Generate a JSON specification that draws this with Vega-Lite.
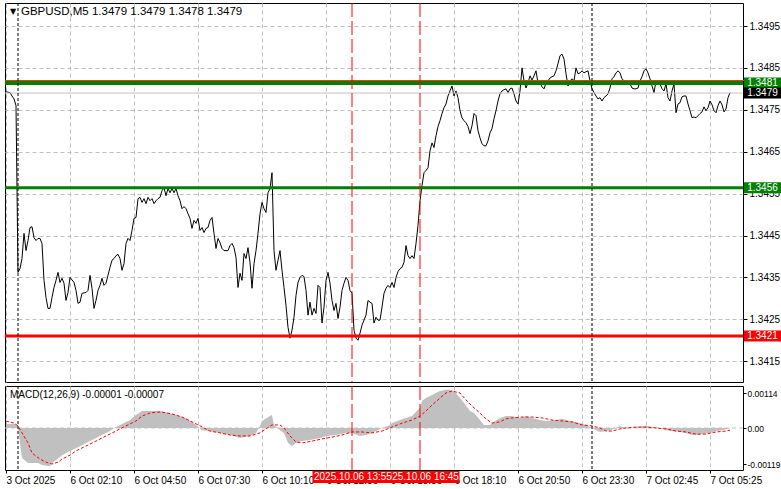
{
  "$schema": "https://vega.github.io/schema/vega-lite/v6.json",
  "background": "white",
  "padding": {"left": 2, "top": 2, "right": 0, "bottom": 0},
  "spacing": 2,
  "config": {
    "view": {"stroke": "#000000", "strokeWidth": 1},
    "font": "Liberation Sans",
    "axis": {"labelFont": "Liberation Sans", "labelFontSize": 10, "labelColor": "#000000", "gridColor": "#c0c0c0", "gridDash": [4, 3], "gridWidth": 1, "tickColor": "#000000", "domain": false, "title": null, "labelOverlap": false, "labelFlush": false},
    "text": {"font": "Liberation Sans", "fontSize": 10}
  },
  "resolve": {"scale": {"x": "independent", "y": "independent"}},
  "datasets": {
    "one": [{}],
    "price": [
      {"k":-6,"p":1.34793},{"k":-4,"p":1.34791},{"k":-3,"p":1.34783},{"k":-2,"p":1.34776},{"k":-1,"p":1.34760},
      {"k":0,"p":1.34362},{"k":1,"p":1.34371},{"k":2,"p":1.34395},{"k":3,"p":1.34455},{"k":4,"p":1.34414},{"k":5,"p":1.34438},{"k":6,"p":1.34469},{"k":7,"p":1.34471},{"k":8,"p":1.34445},{"k":9,"p":1.34438},{"k":10,"p":1.34443},{"k":11,"p":1.34443},{"k":12,"p":1.34431},{"k":13,"p":1.34343},{"k":14,"p":1.34302},{"k":15,"p":1.34276},{"k":16,"p":1.34276},{"k":17,"p":1.34302},{"k":18,"p":1.34326},{"k":19,"p":1.34343},{"k":20,"p":1.34362},{"k":21,"p":1.34338},{"k":22,"p":1.34348},{"k":23,"p":1.34336},{"k":24,"p":1.34295},{"k":25,"p":1.34314},{"k":26,"p":1.34350},{"k":28,"p":1.34338},{"k":29,"p":1.34319},{"k":30,"p":1.34288},{"k":31,"p":1.34291},{"k":32,"p":1.34312},{"k":34,"p":1.34314},{"k":35,"p":1.34319},{"k":36,"p":1.34355},{"k":37,"p":1.34324},{"k":38,"p":1.34276},{"k":39,"p":1.34295},{"k":40,"p":1.34319},{"k":41,"p":1.34331},{"k":42,"p":1.34348},{"k":43,"p":1.34331},{"k":44,"p":1.34336},{"k":45,"p":1.34355},{"k":46,"p":1.34374},{"k":47,"p":1.34391},{"k":48,"p":1.34395},{"k":49,"p":1.34402},{"k":50,"p":1.34405},{"k":51,"p":1.34395},{"k":52,"p":1.34367},{"k":53,"p":1.34383},{"k":54,"p":1.34431},{"k":55,"p":1.34443},{"k":56,"p":1.34438},{"k":57,"p":1.34462},{"k":58,"p":1.34491},{"k":59,"p":1.34493},{"k":60,"p":1.34538},{"k":61,"p":1.34541},{"k":62,"p":1.34529},{"k":63,"p":1.34538},{"k":64,"p":1.34526},{"k":65,"p":1.34541},{"k":66,"p":1.34533},{"k":67,"p":1.34538},{"k":68,"p":1.34526},{"k":69,"p":1.34533},{"k":70,"p":1.34538},{"k":71,"p":1.34541},{"k":72,"p":1.34557},{"k":73,"p":1.34564},{"k":74,"p":1.34545},{"k":75,"p":1.34562},{"k":76,"p":1.34552},{"k":77,"p":1.34562},{"k":78,"p":1.34552},{"k":79,"p":1.34562},{"k":80,"p":1.34545},{"k":81,"p":1.34533},{"k":82,"p":1.34514},{"k":83,"p":1.34519},{"k":84,"p":1.34514},{"k":85,"p":1.34502},{"k":86,"p":1.34491},{"k":87,"p":1.34467},{"k":88,"p":1.34486},{"k":89,"p":1.34479},{"k":90,"p":1.34491},{"k":91,"p":1.34462},{"k":92,"p":1.34469},{"k":93,"p":1.34457},{"k":94,"p":1.34467},{"k":95,"p":1.34469},{"k":96,"p":1.34486},{"k":97,"p":1.34493},{"k":98,"p":1.34455},{"k":99,"p":1.34419},{"k":100,"p":1.34443},{"k":101,"p":1.34433},{"k":102,"p":1.34419},{"k":103,"p":1.34414},{"k":104,"p":1.34414},{"k":105,"p":1.34414},{"k":106,"p":1.34426},{"k":107,"p":1.34431},{"k":108,"p":1.34421},{"k":109,"p":1.34398},{"k":110,"p":1.34326},{"k":111,"p":1.34360},{"k":112,"p":1.34343},{"k":113,"p":1.34407},{"k":114,"p":1.34395},{"k":115,"p":1.34421},{"k":116,"p":1.34386},{"k":117,"p":1.34324},{"k":118,"p":1.34383},{"k":119,"p":1.34414},{"k":120,"p":1.34455},{"k":121,"p":1.34502},{"k":122,"p":1.34529},{"k":123,"p":1.34514},{"k":124,"p":1.34505},{"k":125,"p":1.34552},{"k":126,"p":1.34562},{"k":127,"p":1.34600},{"k":128,"p":1.34414},{"k":129,"p":1.34367},{"k":130,"p":1.34391},{"k":131,"p":1.34414},{"k":132,"p":1.34367},{"k":133,"p":1.34326},{"k":134,"p":1.34283},{"k":135,"p":1.34231},{"k":136,"p":1.34205},{"k":137,"p":1.34224},{"k":138,"p":1.34255},{"k":139,"p":1.34307},{"k":140,"p":1.34338},{"k":141,"p":1.34350},{"k":142,"p":1.34355},{"k":143,"p":1.34352},{"k":144,"p":1.34319},{"k":145,"p":1.34260},{"k":146,"p":1.34291},{"k":147,"p":1.34260},{"k":148,"p":1.34276},{"k":149,"p":1.34264},{"k":150,"p":1.34331},{"k":151,"p":1.34326},{"k":152,"p":1.34241},{"k":153,"p":1.34279},{"k":154,"p":1.34343},{"k":155,"p":1.34362},{"k":156,"p":1.34336},{"k":157,"p":1.34295},{"k":158,"p":1.34271},{"k":159,"p":1.34288},{"k":160,"p":1.34252},{"k":161,"p":1.34279},{"k":162,"p":1.34319},{"k":163,"p":1.34336},{"k":164,"p":1.34350},{"k":165,"p":1.34343},{"k":166,"p":1.34319},{"k":167,"p":1.34312},{"k":168,"p":1.34224},{"k":169,"p":1.34205},{"k":170,"p":1.34200},{"k":171,"p":1.34217},{"k":172,"p":1.34236},{"k":173,"p":1.34248},{"k":174,"p":1.34260},{"k":175,"p":1.34295},{"k":176,"p":1.34291},{"k":177,"p":1.34288},{"k":178,"p":1.34241},{"k":179,"p":1.34255},{"k":180,"p":1.34248},{"k":181,"p":1.34248},{"k":182,"p":1.34279},{"k":183,"p":1.34312},{"k":184,"p":1.34324},{"k":185,"p":1.34331},{"k":186,"p":1.34326},{"k":187,"p":1.34338},{"k":188,"p":1.34326},{"k":189,"p":1.34350},{"k":190,"p":1.34364},{"k":191,"p":1.34371},{"k":192,"p":1.34374},{"k":193,"p":1.34386},{"k":194,"p":1.34426},{"k":195,"p":1.34402},{"k":196,"p":1.34395},{"k":197,"p":1.34402},{"k":198,"p":1.34395},{"k":199,"p":1.34431},{"k":200,"p":1.34474},{"k":201,"p":1.34533},{"k":202,"p":1.34569},{"k":203,"p":1.34600},{"k":204,"p":1.34605},{"k":205,"p":1.34612},{"k":206,"p":1.34652},{"k":207,"p":1.34671},{"k":208,"p":1.34660},{"k":209,"p":1.34688},{"k":210,"p":1.34710},{"k":211,"p":1.34724},{"k":212,"p":1.34741},{"k":213,"p":1.34755},{"k":214,"p":1.34764},{"k":215,"p":1.34783},{"k":216,"p":1.34795},{"k":217,"p":1.34807},{"k":218,"p":1.34783},{"k":219,"p":1.34795},{"k":220,"p":1.34779},{"k":221,"p":1.34748},{"k":222,"p":1.34731},{"k":223,"p":1.34724},{"k":224,"p":1.34719},{"k":225,"p":1.34710},{"k":226,"p":1.34693},{"k":227,"p":1.34712},{"k":228,"p":1.34741},{"k":229,"p":1.34736},{"k":230,"p":1.34700},{"k":231,"p":1.34683},{"k":232,"p":1.34669},{"k":233,"p":1.34664},{"k":234,"p":1.34664},{"k":235,"p":1.34676},{"k":236,"p":1.34695},{"k":237,"p":1.34705},{"k":238,"p":1.34729},{"k":239,"p":1.34748},{"k":240,"p":1.34771},{"k":241,"p":1.34788},{"k":242,"p":1.34795},{"k":243,"p":1.34798},{"k":244,"p":1.34800},{"k":245,"p":1.34791},{"k":246,"p":1.34800},{"k":247,"p":1.34802},{"k":248,"p":1.34788},{"k":249,"p":1.34771},{"k":250,"p":1.34764},{"k":251,"p":1.34795},{"k":252,"p":1.34850},{"k":253,"p":1.34819},{"k":254,"p":1.34802},{"k":255,"p":1.34814},{"k":256,"p":1.34831},{"k":257,"p":1.34821},{"k":258,"p":1.34831},{"k":259,"p":1.34843},{"k":260,"p":1.34814},{"k":261,"p":1.34814},{"k":262,"p":1.34805},{"k":263,"p":1.34800},{"k":264,"p":1.34814},{"k":265,"p":1.34819},{"k":266,"p":1.34826},{"k":267,"p":1.34829},{"k":268,"p":1.34831},{"k":269,"p":1.34843},{"k":270,"p":1.34860},{"k":271,"p":1.34879},{"k":272,"p":1.34883},{"k":273,"p":1.34871},{"k":274,"p":1.34836},{"k":275,"p":1.34807},{"k":276,"p":1.34819},{"k":277,"p":1.34824},{"k":278,"p":1.34819},{"k":279,"p":1.34850},{"k":280,"p":1.34836},{"k":281,"p":1.34838},{"k":282,"p":1.34843},{"k":283,"p":1.34838},{"k":284,"p":1.34841},{"k":285,"p":1.34843},{"k":286,"p":1.34819},{"k":287,"p":1.34800},{"k":288,"p":1.34791},{"k":289,"p":1.34783},{"k":290,"p":1.34776},{"k":291,"p":1.34779},{"k":292,"p":1.34771},{"k":293,"p":1.34779},{"k":294,"p":1.34783},{"k":295,"p":1.34788},{"k":296,"p":1.34802},{"k":297,"p":1.34824},{"k":298,"p":1.34829},{"k":299,"p":1.34838},{"k":300,"p":1.34843},{"k":301,"p":1.34838},{"k":302,"p":1.34824},{"k":303,"p":1.34819},{"k":304,"p":1.34819},{"k":305,"p":1.34817},{"k":306,"p":1.34812},{"k":307,"p":1.34802},{"k":308,"p":1.34800},{"k":309,"p":1.34800},{"k":310,"p":1.34802},{"k":311,"p":1.34819},{"k":312,"p":1.34829},{"k":313,"p":1.34843},{"k":314,"p":1.34848},{"k":315,"p":1.34838},{"k":316,"p":1.34824},{"k":317,"p":1.34807},{"k":318,"p":1.34791},{"k":319,"p":1.34819},{"k":320,"p":1.34814},{"k":321,"p":1.34812},{"k":322,"p":1.34800},{"k":323,"p":1.34795},{"k":324,"p":1.34812},{"k":325,"p":1.34779},{"k":326,"p":1.34771},{"k":327,"p":1.34795},{"k":328,"p":1.34812},{"k":329,"p":1.34743},{"k":330,"p":1.34764},{"k":331,"p":1.34767},{"k":332,"p":1.34781},{"k":333,"p":1.34783},{"k":334,"p":1.34783},{"k":335,"p":1.34764},{"k":336,"p":1.34748},{"k":337,"p":1.34731},{"k":338,"p":1.34733},{"k":339,"p":1.34731},{"k":340,"p":1.34736},{"k":341,"p":1.34741},{"k":342,"p":1.34745},{"k":343,"p":1.34757},{"k":344,"p":1.34748},{"k":345,"p":1.34755},{"k":346,"p":1.34771},{"k":347,"p":1.34762},{"k":348,"p":1.34748},{"k":349,"p":1.34743},{"k":350,"p":1.34760},{"k":351,"p":1.34771},{"k":352,"p":1.34762},{"k":353,"p":1.34745},{"k":354,"p":1.34752},{"k":355,"p":1.34779},{"k":356,"p":1.34791}
    ],
    "hist": [
      {"k":-6,"v":0.00013},{"k":-1,"v":0.00013},{"k":0,"v":0},{"k":1,"v":-0.00049},{"k":2,"v":-0.00098},{"k":5,"v":-0.00115},{"k":10,"v":-0.00115},{"k":12,"v":-0.00121},{"k":16,"v":-0.00125},{"k":17,"v":-0.00115},{"k":19,"v":-0.00105},{"k":22,"v":-0.00089},{"k":26,"v":-0.00075},{"k":29,"v":-0.00066},{"k":34,"v":-0.00049},{"k":39,"v":-0.00033},{"k":42,"v":-0.00023},{"k":46,"v":-0.0001},{"k":48,"v":0},{"k":51,"v":0.0001},{"k":56,"v":0.00026},{"k":59,"v":0.00043},{"k":62,"v":0.00056},{"k":67,"v":0.00056},{"k":71,"v":0.00056},{"k":74,"v":0.00052},{"k":79,"v":0.00043},{"k":84,"v":0.00033},{"k":89,"v":0.0001},{"k":92,"v":-0.00007},{"k":96,"v":-0.0001},{"k":101,"v":-0.00016},{"k":106,"v":-0.00023},{"k":111,"v":-0.00033},{"k":116,"v":-0.00026},{"k":119,"v":-0.00016},{"k":121,"v":0.00007},{"k":122,"v":0.00023},{"k":126,"v":0.00039},{"k":127,"v":0.00043},{"k":128,"v":0.0001},{"k":131,"v":-0.00007},{"k":133,"v":-0.00016},{"k":135,"v":-0.00049},{"k":137,"v":-0.00059},{"k":139,"v":-0.00049},{"k":142,"v":-0.00043},{"k":146,"v":-0.00039},{"k":151,"v":-0.00033},{"k":154,"v":-0.00026},{"k":159,"v":-0.00023},{"k":164,"v":-0.00016},{"k":167,"v":-0.00016},{"k":171,"v":-0.00026},{"k":174,"v":-0.00023},{"k":177,"v":-0.00016},{"k":182,"v":0},{"k":186,"v":0.0001},{"k":187,"v":0.00016},{"k":191,"v":0.00026},{"k":194,"v":0.00033},{"k":197,"v":0.00039},{"k":201,"v":0.00066},{"k":202,"v":0.00089},{"k":204,"v":0.00098},{"k":207,"v":0.00108},{"k":211,"v":0.00121},{"k":214,"v":0.00125},{"k":216,"v":0.00125},{"k":218,"v":0.00121},{"k":221,"v":0.00098},{"k":223,"v":0.00082},{"k":226,"v":0.00056},{"k":228,"v":0.00049},{"k":231,"v":0.00026},{"k":233,"v":0.0001},{"k":236,"v":0.0001},{"k":237,"v":0.00016},{"k":241,"v":0.00033},{"k":244,"v":0.00039},{"k":247,"v":0.00039},{"k":251,"v":0.00033},{"k":254,"v":0.00039},{"k":257,"v":0.00033},{"k":261,"v":0.00026},{"k":264,"v":0.00023},{"k":269,"v":0.00026},{"k":272,"v":0.0003},{"k":276,"v":0.00023},{"k":281,"v":0.00016},{"k":284,"v":0.0001},{"k":287,"v":0},{"k":289,"v":-0.00007},{"k":291,"v":-0.00013},{"k":294,"v":-0.0001},{"k":296,"v":-0.00007},{"k":299,"v":0},{"k":301,"v":0.00007},{"k":302,"v":0.00003},{"k":306,"v":0},{"k":309,"v":0.00003},{"k":314,"v":0.00007},{"k":317,"v":0.00003},{"k":321,"v":0},{"k":324,"v":-0.00007},{"k":327,"v":-0.0001},{"k":331,"v":-0.00013},{"k":334,"v":-0.00016},{"k":337,"v":-0.00023},{"k":340,"v":-0.00023},{"k":342,"v":-0.0002},{"k":346,"v":-0.00016},{"k":349,"v":-0.0001},{"k":352,"v":-0.00007},{"k":356,"v":-0.00001}
    ],
    "signal": [
      {"k":-6,"v":0.00023},{"k":-2,"v":0.00016},{"k":0,"v":0.00007},{"k":2,"v":-0.00016},{"k":5,"v":-0.00049},{"k":7,"v":-0.00082},{"k":11,"v":-0.00102},{"k":14,"v":-0.00112},{"k":17,"v":-0.00118},{"k":20,"v":-0.00112},{"k":22,"v":-0.00102},{"k":26,"v":-0.00089},{"k":29,"v":-0.00075},{"k":34,"v":-0.00059},{"k":39,"v":-0.00043},{"k":44,"v":-0.00026},{"k":49,"v":-0.0001},{"k":54,"v":0.00007},{"k":59,"v":0.00023},{"k":62,"v":0.00039},{"k":66,"v":0.00049},{"k":69,"v":0.00052},{"k":72,"v":0.00052},{"k":77,"v":0.00046},{"k":82,"v":0.00036},{"k":87,"v":0.0002},{"k":91,"v":0.00007},{"k":96,"v":-0.0001},{"k":101,"v":-0.00016},{"k":106,"v":-0.00023},{"k":111,"v":-0.00026},{"k":116,"v":-0.00026},{"k":121,"v":-0.00016},{"k":124,"v":-0.00003},{"k":127,"v":0.0001},{"k":131,"v":0.0001},{"k":133,"v":0},{"k":136,"v":-0.00026},{"k":139,"v":-0.00046},{"k":142,"v":-0.00049},{"k":147,"v":-0.00043},{"k":152,"v":-0.00036},{"k":157,"v":-0.0003},{"k":162,"v":-0.00023},{"k":167,"v":-0.00013},{"k":172,"v":-0.00013},{"k":177,"v":-0.00016},{"k":182,"v":-0.0001},{"k":187,"v":0.00003},{"k":192,"v":0.00016},{"k":197,"v":0.00026},{"k":201,"v":0.00039},{"k":204,"v":0.00056},{"k":207,"v":0.00075},{"k":211,"v":0.00098},{"k":214,"v":0.00115},{"k":217,"v":0.00121},{"k":221,"v":0.00115},{"k":224,"v":0.00092},{"k":227,"v":0.00072},{"k":231,"v":0.00049},{"k":234,"v":0.0003},{"k":237,"v":0.00016},{"k":241,"v":0.0002},{"k":244,"v":0.0003},{"k":247,"v":0.00033},{"k":252,"v":0.00036},{"k":257,"v":0.00036},{"k":262,"v":0.00033},{"k":267,"v":0.00026},{"k":272,"v":0.00023},{"k":277,"v":0.0002},{"k":282,"v":0.0001},{"k":287,"v":0.00007},{"k":291,"v":0},{"k":294,"v":-0.0001},{"k":297,"v":-0.0001},{"k":301,"v":-0.00003},{"k":304,"v":0},{"k":309,"v":0.00003},{"k":314,"v":0.00003},{"k":319,"v":0},{"k":324,"v":-0.00003},{"k":329,"v":-0.0001},{"k":334,"v":-0.00013},{"k":339,"v":-0.0002},{"k":344,"v":-0.0002},{"k":349,"v":-0.00013},{"k":354,"v":-0.0001},{"k":356,"v":-0.00007}
    ]
  },
  "vconcat": [
    {
      "width": 738,
      "height": 379,
      "data": {"name": "one"},
      "layer": [
        {
          "data": {"name": "price"},
          "mark": {"type": "line", "color": "#000000", "strokeWidth": 1},
          "encoding": {
            "x": {"field": "k", "type": "quantitative", "scale": {"domain": [-6.5, 362.5], "nice": false, "zero": false},
                  "axis": {"values": [-6,10,26,42,58,74,90,106,122,138,154,170,186,202,218,234,250,266,282,298,314,330,346], "labels": false, "ticks": false, "grid": true, "domain": false}},
            "y": {"field": "p", "type": "quantitative", "scale": {"domain": [1.341004, 1.350049], "nice": false, "zero": false},
                  "axis": {"orient": "right", "values": [1.3415,1.3425,1.3435,1.3445,1.3455,1.3465,1.3475,1.3485,1.3495], "format": ".4f", "grid": true, "tickSize": 4, "labelPadding": 2}}
          }
        },
        {"mark": {"type": "rule", "color": "#c0c0c0", "strokeWidth": 1}, "encoding": {"y": {"datum": 1.3479}}},
        {"mark": {"type": "rule", "color": "#ff3000", "strokeWidth": 1, "clip": false}, "encoding": {"y": {"datum": 1.3482}, "x": {"datum": -6.5}, "x2": {"datum": 381.5}}},
        {"mark": {"type": "rule", "color": "#008000", "strokeWidth": 4}, "encoding": {"y": {"datum": 1.34814}}},
        {"mark": {"type": "rule", "color": "#008000", "strokeWidth": 3}, "encoding": {"y": {"datum": 1.34564}}},
        {"mark": {"type": "rule", "color": "#ff0000", "strokeWidth": 3}, "encoding": {"y": {"datum": 1.3421}}},
        {"mark": {"type": "rule", "color": "#000000", "strokeWidth": 1, "strokeDash": [3, 2]}, "encoding": {"x": {"datum": 0}}},
        {"mark": {"type": "rule", "color": "#000000", "strokeWidth": 1, "strokeDash": [3, 2]}, "encoding": {"x": {"datum": 287}}},
        {"mark": {"type": "rule", "color": "#ff0000", "strokeWidth": 1, "strokeDash": [14, 4]}, "encoding": {"x": {"datum": 167}}},
        {"mark": {"type": "rule", "color": "#ff0000", "strokeWidth": 1, "strokeDash": [14, 4]}, "encoding": {"x": {"datum": 201}}},
        {"mark": {"type": "text", "text": "▼", "fontSize": 8, "font": "DejaVu Sans", "align": "center", "baseline": "middle", "color": "#000000"}, "encoding": {"x": {"datum": -2.5}, "y": {"datum": 1.34983}}},
        {"mark": {"type": "text", "text": "GBPUSD,M5  1.3479 1.3479 1.3478 1.3479", "fontSize": 11.5, "align": "left", "baseline": "middle", "color": "#000000"}, "encoding": {"x": {"datum": 1.5}, "y": {"datum": 1.34983}}},
        {"mark": {"type": "tick", "orient": "horizontal", "size": 37, "thickness": 11, "color": "#008000", "opacity": 1}, "encoding": {"x": {"datum": 372.25}, "y": {"datum": 1.34814}}},
        {"mark": {"type": "text", "text": "1.3481", "align": "center", "baseline": "middle", "color": "#ffffff"}, "encoding": {"x": {"datum": 372.25}, "y": {"datum": 1.34814}}},
        {"mark": {"type": "tick", "orient": "horizontal", "size": 37, "thickness": 11, "color": "#000000", "opacity": 1}, "encoding": {"x": {"datum": 372.25}, "y": {"datum": 1.3479}}},
        {"mark": {"type": "text", "text": "1.3479", "align": "center", "baseline": "middle", "color": "#ffffff"}, "encoding": {"x": {"datum": 372.25}, "y": {"datum": 1.3479}}},
        {"mark": {"type": "tick", "orient": "horizontal", "size": 37, "thickness": 11, "color": "#008000", "opacity": 1}, "encoding": {"x": {"datum": 372.25}, "y": {"datum": 1.34564}}},
        {"mark": {"type": "text", "text": "1.3456", "align": "center", "baseline": "middle", "color": "#ffffff"}, "encoding": {"x": {"datum": 372.25}, "y": {"datum": 1.34564}}},
        {"mark": {"type": "tick", "orient": "horizontal", "size": 37, "thickness": 11, "color": "#ff0000", "opacity": 1}, "encoding": {"x": {"datum": 372.25}, "y": {"datum": 1.3421}}},
        {"mark": {"type": "text", "text": "1.3421", "align": "center", "baseline": "middle", "color": "#ffffff"}, "encoding": {"x": {"datum": 372.25}, "y": {"datum": 1.3421}}}
      ]
    },
    {
      "width": 738,
      "height": 84,
      "data": {"name": "one"},
      "layer": [
        {
          "data": {"name": "hist"},
          "mark": {"type": "area", "color": "#c0c0c0", "opacity": 1},
          "encoding": {
            "x": {"field": "k", "type": "quantitative", "scale": {"domain": [-6.5, 362.5], "nice": false, "zero": false},
                  "axis": {"orient": "bottom", "values": [-6,10,26,42,58,74,90,106,122,138,154,170,186,202,218,234,250,266,282,298,314,330,346], "grid": true, "domain": false, "ticks": true, "tickSize": 3, "labelPadding": 2, "labelAlign": "left",
                           "labelExpr": "datum.value == -6 ? '3 Oct 2025' : datum.value == 26 ? '6 Oct 02:10' : datum.value == 58 ? '6 Oct 04:50' : datum.value == 90 ? '6 Oct 07:30' : datum.value == 122 ? '6 Oct 10:10' : datum.value == 154 ? '6 Oct 12:50' : datum.value == 186 ? '6 Oct 15:30' : datum.value == 218 ? '6 Oct 18:10' : datum.value == 250 ? '6 Oct 20:50' : datum.value == 282 ? '6 Oct 23:30' : datum.value == 314 ? '7 Oct 02:45' : datum.value == 346 ? '7 Oct 05:25' : ''"}},
            "y": {"field": "v", "type": "quantitative", "scale": {"domain": [-0.001377, 0.001377], "nice": false, "zero": false},
                  "axis": {"orient": "right", "values": [0.00114, 0, -0.00119], "grid": false, "tickSize": 3, "labelPadding": 1, "labelFontSize": 8.5,
                           "labelExpr": "datum.value == 0 ? '0.00' : datum.value > 0 ? '0.00114' : '-0.00119'"}}
          }
        },
        {"mark": {"type": "rule", "color": "#c0c0c0", "strokeWidth": 1, "strokeDash": [4, 3]}, "encoding": {"y": {"datum": 0}}},
        {"data": {"name": "signal"}, "mark": {"type": "line", "color": "#ff0000", "strokeWidth": 1, "strokeDash": [3, 2]}, "encoding": {"x": {"field": "k", "type": "quantitative"}, "y": {"field": "v", "type": "quantitative"}}},
        {"mark": {"type": "rule", "color": "#000000", "strokeWidth": 1, "strokeDash": [3, 2]}, "encoding": {"x": {"datum": 0}}},
        {"mark": {"type": "rule", "color": "#000000", "strokeWidth": 1, "strokeDash": [3, 2]}, "encoding": {"x": {"datum": 287}}},
        {"mark": {"type": "rule", "color": "#ff0000", "strokeWidth": 1, "strokeDash": [14, 4]}, "encoding": {"x": {"datum": 167}}},
        {"mark": {"type": "rule", "color": "#ff0000", "strokeWidth": 1, "strokeDash": [14, 4]}, "encoding": {"x": {"datum": 201}}},
        {"mark": {"type": "text", "text": "MACD(12,26,9) -0.00001 -0.00007", "align": "left", "baseline": "middle", "color": "#000000"}, "encoding": {"x": {"datum": -4}, "y": {"datum": 0.00109}}},
        {"mark": {"type": "tick", "orient": "horizontal", "size": 79, "thickness": 12, "color": "#ff0000", "opacity": 1, "clip": false}, "encoding": {"x": {"datum": 201}, "y": {"datum": -0.00161}}},
        {"mark": {"type": "text", "text": "2025.10.06 16:45", "align": "center", "baseline": "middle", "color": "#ffffff"}, "encoding": {"x": {"datum": 201}, "y": {"datum": -0.00161}}},
        {"mark": {"type": "tick", "orient": "horizontal", "size": 79, "thickness": 12, "color": "#ff0000", "opacity": 1, "clip": false}, "encoding": {"x": {"datum": 167}, "y": {"datum": -0.00161}}},
        {"mark": {"type": "text", "text": "2025.10.06 13:55", "align": "left", "baseline": "middle", "color": "#ffffff", "dx": -38, "limit": 78, "ellipsis": ""}, "encoding": {"x": {"datum": 167}, "y": {"datum": -0.00161}}}
      ]
    }
  ]
}
